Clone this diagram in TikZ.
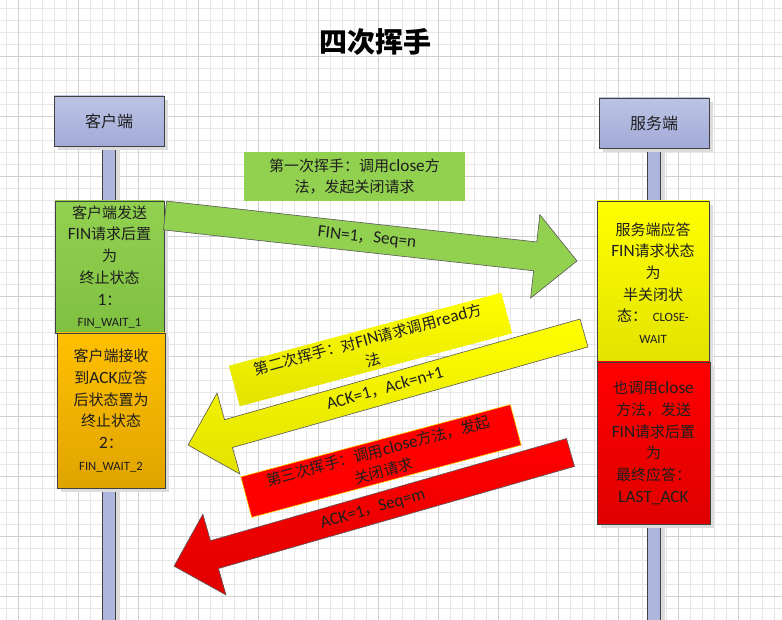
\documentclass[tikz,border=0pt]{standalone}
\usepackage{fontspec}
\setmainfont{Noto Sans CJK SC}
\newfontfamily\latfont{Carlito}[Scale=1.15]
\newcommand\EN[1]{{\latfont #1}}
\definecolor{gridminor}{HTML}{E6E6E6}
\definecolor{gridmajor}{HTML}{D0D0D0}
\definecolor{lavtop}{HTML}{BCC4E4}
\definecolor{lavbot}{HTML}{A2AAD8}
\definecolor{lifec}{HTML}{AEB6DE}
\definecolor{grntop}{HTML}{92D050}
\definecolor{grnbot}{HTML}{80C040}
\definecolor{orgtop}{HTML}{FFC000}
\definecolor{orgbot}{HTML}{E0A400}
\definecolor{yeltop}{HTML}{FFFF00}
\definecolor{yelbot}{HTML}{E2E200}
\definecolor{redtop}{HTML}{FF0000}
\definecolor{redbot}{HTML}{E00000}
\definecolor{edgec}{HTML}{404040}
\definecolor{shadowc}{HTML}{DCDCDC}
\definecolor{txt}{HTML}{1E1E1E}
\newcommand\blockarrow[4]{%
  \fill[shadowc, shift={(3,3)}, shift={#2}, rotate=#3]
    (0,-14.5) -- ({#4-42},-14.5) -- ({#4-42},-42) -- (#4,0) -- ({#4-42},42) -- ({#4-42},14.5) -- (0,14.5) -- cycle;
  \draw[#1, shift={#2}, rotate=#3]
    (0,-14.5) -- ({#4-42},-14.5) -- ({#4-42},-42) -- (#4,0) -- ({#4-42},42) -- ({#4-42},14.5) -- (0,14.5) -- cycle;}
\tikzset{
  minorline/.style={draw=gridminor, line width=0.9pt},
  majorline/.style={draw=gridmajor, line width=0.9pt},
  actorbox/.style={draw=edgec, line width=0.9pt, top color=lavtop, bottom color=lavbot,
    minimum width=110pt, minimum height=50pt, inner sep=0pt, text=txt,
    font=\fontsize{16}{18}\selectfont},
  lifeline/.style={draw=edgec, line width=0.9pt, fill=lifec},
  statebox/.style={draw=edgec, line width=0.9pt, inner sep=0pt, align=center, text=txt,
    font=\fontsize{15}{21.7}\selectfont},
  labelbox/.style={inner sep=0pt, align=center, text=txt, font=\fontsize{15}{21}\selectfont},
  arrowlabel/.style={text=txt, inner sep=0pt, font=\latfont\fontsize{15}{18}\selectfont},
  arrowedge/.style={draw=black!65, line width=0.6pt},
  boxshadow/.style={fill=shadowc}
}
\begin{document}
\begin{tikzpicture}[x=1pt,y=-1pt]
\useasboundingbox (0,0) rectangle (782,620);
\fill[white] (0,0) rectangle (782,620);
% grid
\foreach \x in {6.5,18.5,...,782} \draw[minorline] (\x,0) -- (\x,620);
\foreach \y in {8.5,20.5,...,620} \draw[minorline] (0,\y) -- (782,\y);
\foreach \x in {18.5,78.5,...,782} \draw[majorline] (\x,0) -- (\x,620);
\foreach \y in {56.5,116.5,...,620} \draw[majorline] (0,\y) -- (782,\y);

% title
\node[text=black, font=\fontsize{28}{32}\selectfont\bfseries] (title) at (375,42) {四次挥手};

% lifelines
\fill[boxshadow] (116,150) rectangle (120,620);
\fill[boxshadow] (661,152) rectangle (665,620);
\draw[lifeline] (102.5,146) rectangle (115.5,621);
\draw[lifeline] (647.5,148) rectangle (660.5,621);

% actor boxes
\fill[boxshadow] (58,100) rectangle (168,150);
\fill[boxshadow] (603,102) rectangle (713,152);
\node[actorbox] (client) at (109,121) {客户端};
\node[actorbox] (server) at (654,123) {服务端};

% state box shadows
\fill[boxshadow] (59,205) rectangle (168,337);
\fill[boxshadow] (61,337) rectangle (169,492);
\fill[boxshadow] (601,205) rectangle (713,369);
\fill[boxshadow] (601,366) rectangle (714,528);

% client states
\node[statebox, top color=grntop, bottom color=grnbot, minimum width=109pt, minimum height=132pt]
  (c1) at (109.5,267) {客户端发送\\\EN{FIN}请求后置\\为\\终止状态\\\EN{1}：\\{\latfont\fontsize{11}{21.7}\selectfont FIN\_WAIT\_1}};
\node[statebox, top color=orgtop, bottom color=orgbot, minimum width=108pt, minimum height=155pt]
  (c2) at (111,410.5) {客户端接收\\到\EN{ACK}应答\\后状态置为\\终止状态\\\EN{2}：\\{\latfont\fontsize{11}{21.7}\selectfont FIN\_WAIT\_2}};

% server states
\node[statebox, top color=yeltop, bottom color=yelbot, minimum width=112pt, minimum height=164pt]
  (s1) at (653,283) {服务端应答\\\EN{FIN}请求状态\\为\\半关闭状\\态：{\latfont\fontsize{11}{21.7}\selectfont\ \ CLOSE-}\\{\latfont\fontsize{11}{21.7}\selectfont WAIT}};
\node[statebox, top color=redtop, bottom color=redbot, minimum width=113pt, minimum height=162pt]
  (s2) at (653.5,443) {也调用\EN{close}\\方法，发送\\\EN{FIN}请求后置\\为\\最终应答：\\\EN{LAST\_ACK}};

% first wave
\node[labelbox, fill=grntop, minimum width=221pt, minimum height=49pt] (lab1) at (354.5,176.5)
  {第一次挥手：调用\EN{close}方\\法，发起关闭请求};
\coordinate (g0) at (165,215.5);
\blockarrow{arrowedge, fill=grntop}{(g0)}{-6.3}{414.5}
\node[arrowlabel, rotate=-6.3] (m1) at (367,238) {FIN=1{\normalfont，}Seq=n};

% second wave
\node[labelbox, top color=yeltop, bottom color=yelbot, minimum width=282pt, minimum height=42pt, rotate=15] (lab2) at (370.5,349.5)
  {第二次挥手：对\EN{FIN}请求调用\EN{read}方\\法};
\coordinate (y0) at (584,333);
\blockarrow{arrowedge, top color=yeltop, bottom color=yelbot}{(y0)}{195.8}{411.5}
\node[arrowlabel, rotate=15.8] (m2) at (385,388.5) {ACK=1{\normalfont，}Ack=n+1};

% third wave
\node[labelbox, fill=redtop, draw=yeltop!70!orange, line width=0.6pt, minimum width=279pt, minimum height=42pt, rotate=15] (lab3) at (381,461)
  {第三次挥手：调用\EN{close}方法，发起\\关闭请求};
\coordinate (r0) at (570.5,452.5);
\blockarrow{arrowedge, top color=redtop, bottom color=redbot}{(r0)}{196}{412.4}
\node[arrowlabel, rotate=16] (m3) at (373,509.5) {ACK=1{\normalfont，}Seq=m};
\end{tikzpicture}
\end{document}
